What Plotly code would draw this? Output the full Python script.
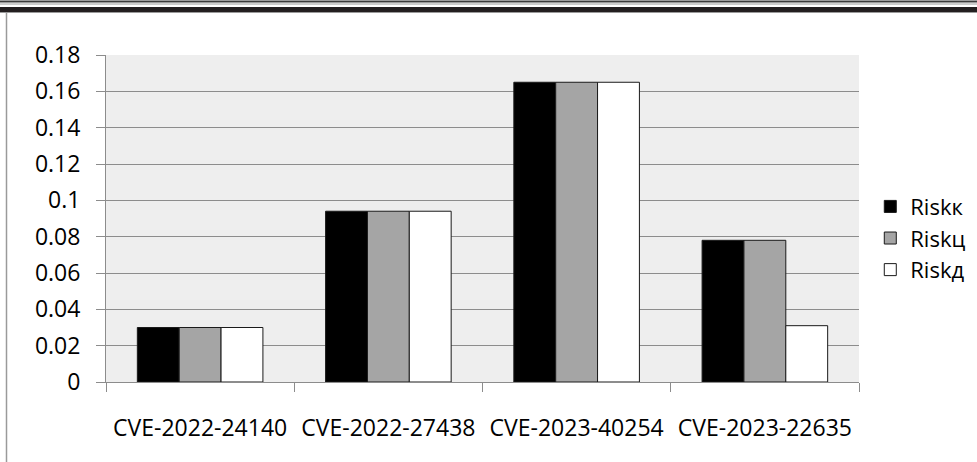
import plotly.graph_objects as go

# Risk scores per vulnerability
categories = ["CVE-2022-24140", "CVE-2022-27438", "CVE-2023-40254", "CVE-2023-22635"]
risk_k = [0.030, 0.094, 0.165, 0.078]
risk_c = [0.030, 0.094, 0.165, 0.078]
risk_d = [0.030, 0.094, 0.165, 0.031]
series_names = ["Riskк", "Riskц", "Riskд"]

y_tick_values = [0, 0.02, 0.04, 0.06, 0.08, 0.1, 0.12, 0.14, 0.16, 0.18]
y_tick_labels = ["0", "0.02", "0.04", "0.06", "0.08", "0.1", "0.12", "0.14", "0.16", "0.18"]

W, H = 977, 462
ML, MR, MT, MB = 106, 118, 55, 80
PW, PH = W - ML - MR, H - MT - MB

FONT = "Open Sans"
AXIS_GRAY = "#8c8c8c"


def px_x(px):
    return (px - ML) / PW


def px_y(py):
    return (H - MB - py) / PH


fig = go.Figure()
fills = ["#000000", "#a5a5a5", "#ffffff"]
for name, vals, fill in zip(series_names, [risk_k, risk_c, risk_d], fills):
    fig.add_trace(go.Bar(
        x=categories, y=vals, name=name, legendgroup=name,
        marker=dict(color=fill, line=dict(color="#1a1a1a", width=1)),
    ))

# page rules above the chart and the left margin line
shapes = [
    dict(type="line", xref="paper", yref="paper", x0=px_x(0), x1=px_x(W),
         y0=px_y(1.5), y1=px_y(1.5), line=dict(color="#3a3a3a", width=2)),
    dict(type="line", xref="paper", yref="paper", x0=px_x(0), x1=px_x(W),
         y0=px_y(4), y1=px_y(4), line=dict(color="#9a9a9a", width=1)),
    dict(type="rect", xref="paper", yref="paper", x0=px_x(0), x1=px_x(W),
         y0=px_y(12), y1=px_y(7), fillcolor="#231f20", line=dict(width=0)),
    dict(type="line", xref="paper", yref="paper", x0=px_x(0), x1=px_x(W),
         y0=px_y(12.5), y1=px_y(12.5), line=dict(color="#9a9a9a", width=1)),
    dict(type="line", xref="paper", yref="paper", x0=px_x(6.5), x1=px_x(6.5),
         y0=px_y(12), y1=px_y(H), line=dict(color="#9a9a9a", width=1.5)),
]

fig.update_layout(
    width=W, height=H,
    margin=dict(l=ML, r=MR, t=MT, b=MB, autoexpand=False),
    paper_bgcolor="white",
    plot_bgcolor="#eeeeee",
    barmode="group",
    bargap=0.333,
    bargroupgap=0,
    font=dict(family=FONT, color="#000000"),
    shapes=shapes,
    legend=dict(
        x=1.015, xanchor="left", y=0.44, yanchor="middle",
        font=dict(family=FONT, size=22, color="#000000"),
        bgcolor="rgba(0,0,0,0)", tracegroupgap=0,
    ),
    xaxis=dict(
        range=[-0.5, 3.5], showline=True, linecolor=AXIS_GRAY, linewidth=1,
        ticks="outside", tickson="boundaries", ticklen=9, tickcolor=AXIS_GRAY,
        tickfont=dict(family=FONT, size=23, color="#000000"),
        tickangle=0, automargin=False,
        ticklabelstandoff=25, showgrid=False,
    ),
    yaxis=dict(
        range=[0, 0.18], tickvals=y_tick_values, ticktext=y_tick_labels,
        showline=True, linecolor=AXIS_GRAY, linewidth=1,
        ticks="outside", ticklen=9, tickcolor=AXIS_GRAY,
        tickfont=dict(family=FONT, size=23, color="#000000"),
        ticklabelstandoff=11, automargin=False,
        showgrid=True, gridcolor=AXIS_GRAY, gridwidth=1, zeroline=False,
    ),
)

fig.write_html("out.html")
